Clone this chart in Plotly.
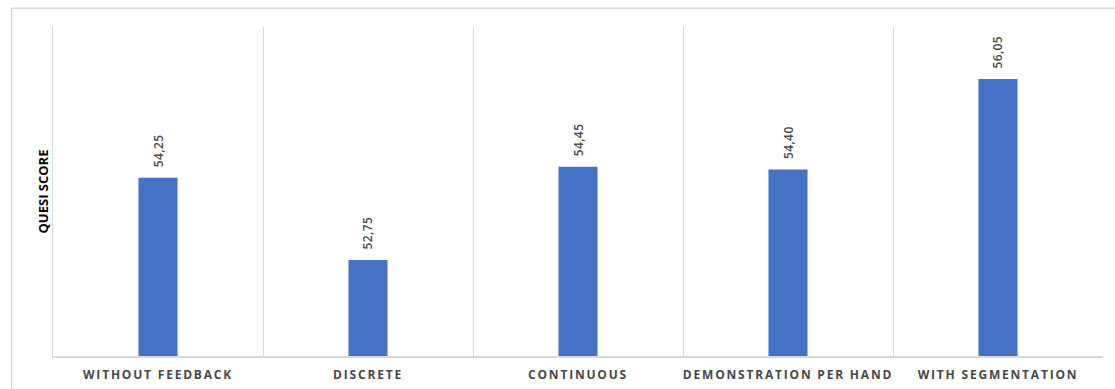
import plotly.graph_objects as go

# QUESI scores per feedback condition
conditions = ["WITHOUT FEEDBACK", "DISCRETE", "CONTINUOUS", "DEMONSTRATION PER HAND", "WITH SEGMENTATION"]
quesi_scores = [54.25, 52.75, 54.45, 54.40, 56.05]

GRID = "#d9d9d9"

fig = go.Figure(
    go.Bar(
        x=conditions,
        y=quesi_scores,
        width=0.186,
        marker=dict(color="#4472c4", line=dict(width=0)),
        hoverinfo="x+y",
    )
)

# value labels above each bar, rotated, with decimal comma
for cat, val in zip(conditions, quesi_scores):
    fig.add_annotation(
        x=cat,
        y=val,
        text=f"{val:.2f}".replace(".", ","),
        textangle=-90,
        yanchor="bottom",
        xanchor="center",
        yshift=9,
        showarrow=False,
        font=dict(family="Open Sans", size=12, color="#4a4a4a", weight=600),
    )

fig.update_layout(
    width=1115,
    height=389,
    margin=dict(l=53, r=12, t=27, b=33, autoexpand=False),
    paper_bgcolor="white",
    plot_bgcolor="white",
    showlegend=False,
    xaxis=dict(
        automargin=False,
        tickson="boundaries",
        showgrid=True,
        gridcolor=GRID,
        gridwidth=1,
        showline=True,
        linecolor=GRID,
        linewidth=1.5,
        ticks="",
        ticklabelstandoff=7,
        tickfont=dict(family="Open Sans", size=12, color="#484848", weight=700),
        range=[-0.5, 4.5],
    ),
    yaxis=dict(
        automargin=False,
        range=[51, 57],
        showgrid=False,
        showticklabels=False,
        ticks="",
        zeroline=False,
        showline=True,
        linecolor=GRID,
        linewidth=1,
        title=dict(
            text="QUESI SCORE",
            font=dict(family="Open Sans", size=13, color="#000000", weight="bold"),
            standoff=0,
        ),
    ),
    shapes=[
        dict(
            type="rect",
            xref="paper",
            yref="paper",
            x0=-0.0395,
            x1=1.05,
            y0=-0.2,
            y1=1.057,
            line=dict(color=GRID, width=1.5),
            fillcolor="rgba(0,0,0,0)",
            layer="below",
        )
    ],
)

# widen the tracking of the category labels
spacing_js = """
var gd = document.getElementsByClassName('plotly-graph-div')[0];
function track() {
  document.querySelectorAll('.xtick text').forEach(function (t) {
    t.setAttribute('letter-spacing', '1.8px');
  });
  document.querySelectorAll('.annotation-text').forEach(function (t) {
    t.setAttribute('letter-spacing', '0.4px');
  });
}
track();
gd.on('plotly_afterplot', track);
"""

fig.write_html("out.html", post_script=spacing_js)
